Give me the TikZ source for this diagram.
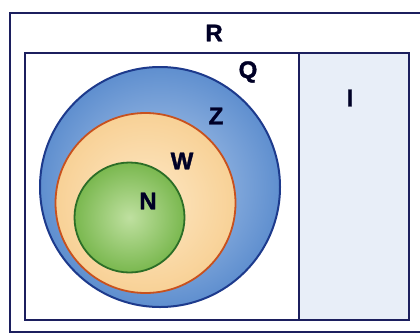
\documentclass[tikz,border=0pt]{standalone}
\usepackage{fontspec}
\setmainfont{Liberation Sans}
\newfontfamily\lblfont[FakeBold=1.5]{Liberation Sans Bold}
\begin{document}
\begin{tikzpicture}[x=1pt,y=-1pt,
  lbl/.style={font=\lblfont\fontsize{24}{24}\selectfont, text=black!85!blue, inner sep=0pt},
  frame/.style={draw=navy, line width=2.2pt},
]
\definecolor{navy}{HTML}{1C1F5E}
\definecolor{zedge}{HTML}{1D3A8C}
\definecolor{zout}{HTML}{5F8FCF}
\definecolor{zin}{HTML}{B4CCEC}
\definecolor{wedge}{HTML}{C8511E}
\definecolor{wout}{HTML}{F8D196}
\definecolor{win}{HTML}{FDE8C6}
\definecolor{nedge}{HTML}{2C6E27}
\definecolor{nout}{HTML}{7AB84F}
\definecolor{nin}{HTML}{BFE0A0}
\definecolor{ifill}{HTML}{E8EEF8}
\useasboundingbox (0,0) rectangle (420,335);
\clip (0,0) rectangle (420,335);
\fill[white] (0,0) rectangle (420,335);
% outer rectangle R
\draw[frame, line width=1.8pt] (10,13) rectangle (430,332);
% right region I
\fill[ifill] (299,53) rectangle (409,320);
% inner rectangle Q
\draw[frame] (25,53) rectangle (409,320);
\draw[frame] (299,53) -- (299,320);
% Z circle
\shade[inner color=zin, outer color=zout] (160,187) circle[radius=120];
\draw[zedge, line width=2pt] (160,187) circle[radius=120];
% W circle
\shade[inner color=win, outer color=wout] (145.5,203) circle[radius=90];
\draw[wedge, line width=1.8pt] (145.5,203) circle[radius=90];
% N circle
\shade[inner color=nin, outer color=nout] (129.5,217.5) circle[radius=55];
\draw[nedge, line width=1.8pt] (129.5,217.5) circle[radius=55];
% labels
\node[lbl] (R) at (214,33) {R};
\node[lbl] (Q) at (248,72) {Q};
\node[lbl] (Z) at (216,116) {Z};
\node[lbl] (W) at (182,161) {W};
\node[lbl] (N) at (148,201) {N};
\node[lbl] (I) at (350,98) {I};
\end{tikzpicture}
\end{document}
